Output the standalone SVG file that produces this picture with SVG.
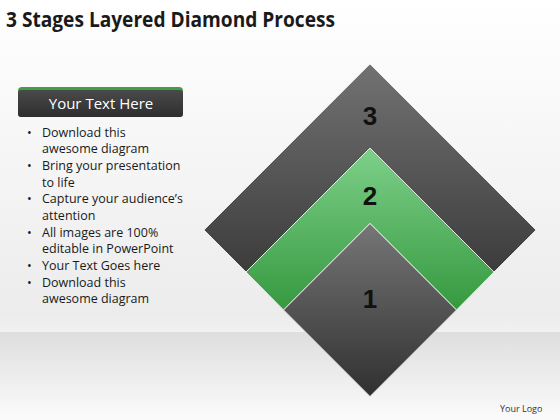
<svg xmlns="http://www.w3.org/2000/svg" width="560" height="420" viewBox="0 0 560 420">
<style>
.t{font-family:"Open Sans","Liberation Sans",sans-serif;fill:#1a1a1a}
.b{font-size:12.5px}
.n{font-family:"Liberation Sans",sans-serif;font-weight:bold;font-size:26px;fill:#111;text-anchor:middle}
.edge{stroke:#e8e8e8;stroke-width:1;stroke-linejoin:miter}
</style>
<defs>
<linearGradient id="bg" x1="0" y1="0" x2="0" y2="1">
<stop offset="0" stop-color="#ffffff"/>
<stop offset="0.75" stop-color="#ececec"/>
<stop offset="0.79" stop-color="#f1f1f1"/>
</linearGradient>
<linearGradient id="floor" x1="0" y1="0" x2="0" y2="1">
<stop offset="0" stop-color="#dedede"/>
<stop offset="1" stop-color="#fbfbfb"/>
</linearGradient>
<linearGradient id="g3" x1="0" y1="0" x2="0" y2="1">
<stop offset="0" stop-color="#727272"/>
<stop offset="1" stop-color="#3c3c3c"/>
</linearGradient>
<linearGradient id="g2" x1="0" y1="0" x2="0" y2="1">
<stop offset="0" stop-color="#7ed08a"/>
<stop offset="1" stop-color="#35993f"/>
</linearGradient>
<linearGradient id="g1" x1="0" y1="0" x2="0" y2="1">
<stop offset="0" stop-color="#767676"/>
<stop offset="1" stop-color="#303030"/>
</linearGradient>
<linearGradient id="hdr" x1="0" y1="0" x2="0" y2="1">
<stop offset="0" stop-color="#4a4a4a"/>
<stop offset="1" stop-color="#2e2e2e"/>
</linearGradient>
</defs>
<rect x="0" y="0" width="560" height="420" fill="url(#bg)"/>
<rect x="0" y="332" width="560" height="88" fill="url(#floor)"/>
<text class="t" x="6" y="27" font-size="21" font-weight="bold" fill="#111" textLength="329" lengthAdjust="spacingAndGlyphs">3 Stages Layered Diamond Process</text>
<g id="header">
<rect x="18" y="87" width="165" height="30" rx="4" fill="#3f9e48"/>
<rect x="18" y="90" width="165" height="27" rx="3" fill="url(#hdr)"/>
<text x="101" y="109" font-family="Open Sans,Liberation Sans,sans-serif" font-size="15" fill="#ffffff" text-anchor="middle">Your Text Here</text>
</g>
<g id="bullets" class="t b">
<text x="27" y="136.7">•</text><text x="42" y="136.7">Download this</text>
<text x="42" y="153.4">awesome diagram</text>
<text x="27" y="170">•</text><text x="42" y="170">Bring your presentation</text>
<text x="42" y="186.7">to life</text>
<text x="27" y="203.4">•</text><text x="42" y="203.4">Capture your audience’s</text>
<text x="42" y="220">attention</text>
<text x="27" y="236.7">•</text><text x="42" y="236.7">All images are 100%</text>
<text x="42" y="253.4">editable in PowerPoint</text>
<text x="27" y="270">•</text><text x="42" y="270">Your Text Goes here</text>
<text x="27" y="286.7">•</text><text x="42" y="286.7">Download this</text>
<text x="42" y="303.4">awesome diagram</text>
</g>
<g id="stage3">
<polygon class="edge" points="370,64 536,230 494,272 370,148 246,272 204,230" fill="url(#g3)"/>
<text class="n" x="370" y="125">3</text>
</g>
<g id="stage2">
<polygon class="edge" points="370,148 494,272 456.5,310 370,223.5 283.5,310 246,272" fill="url(#g2)"/>
<text class="n" x="370" y="205">2</text>
</g>
<g id="stage1">
<polygon class="edge" points="370,223.5 456.5,310 370,396.5 283.5,310" fill="url(#g1)"/>
<text class="n" x="370" y="308">1</text>
</g>
<g id="connectors"/>
<text x="500" y="412" font-family="Open Sans,Liberation Sans,sans-serif" font-size="9" fill="#333">Your Logo</text>
</svg>
